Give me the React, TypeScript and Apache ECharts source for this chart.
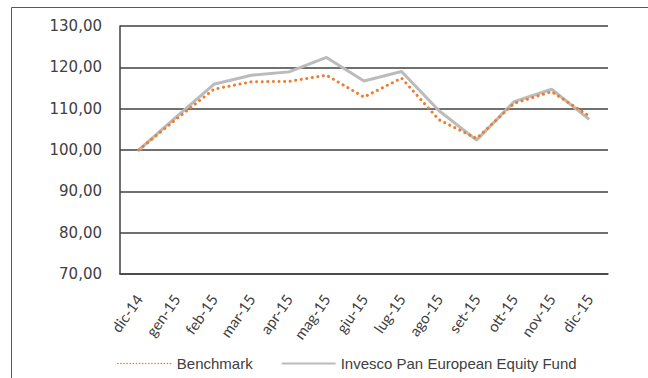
import React, { useEffect, useRef } from "react";
import * as echarts from "echarts";

const categories = ["dic-14", "gen-15", "feb-15", "mar-15", "apr-15", "mag-15", "giu-15", "lug-15", "ago-15", "set-15", "ott-15", "nov-15", "dic-15"];
const benchmark = [100, 107.5, 114.7, 116.5, 116.6, 118.1, 112.8, 117.4, 107.3, 102.8, 111.3, 114.1, 108.2];
const fund = [100, 108, 115.9, 118.1, 118.9, 122.4, 116.7, 119.0, 109.5, 102.4, 111.7, 114.7, 107.4];
const seriesNames = ["Benchmark", "Invesco Pan European Equity Fund"];

export default function App() {
  const ref = useRef<HTMLDivElement>(null);
  useEffect(() => {
    if (!ref.current) return;
    const chart = echarts.init(ref.current, null, { renderer: "svg" });
    chart.setOption({
      animation: false,
      backgroundColor: "#ffffff",
      grid: { left: 120, right: 40, top: 26, bottom: 104 },
      graphic: [
        {
          type: "rect",
          shape: { x: 11.5, y: 7.5, width: 700, height: 500 },
          style: { fill: "none", stroke: "#595959", lineWidth: 1 },
          silent: true,
        },
      ],
      legend: {
        bottom: 2,
        left: 112,
        itemWidth: 54,
        itemHeight: 10,
        itemGap: 28,
        itemStyle: { opacity: 0 },
        textStyle: { fontFamily: "Liberation Sans", fontSize: 15, color: "#404040" },
        data: [
          { name: seriesNames[0], lineStyle: { width: 1.6, type: [0.1, 3], cap: "round" } },
          { name: seriesNames[1], lineStyle: { width: 2 } },
        ],
      },
      xAxis: {
        type: "category",
        data: categories,
        boundaryGap: true,
        axisLine: { show: true, lineStyle: { color: "#404040", width: 1.5 } },
        axisTick: { show: false },
        axisLabel: {
          rotate: 55,
          margin: 22,
          interval: 0,
          fontFamily: "Lato",
          fontSize: 15,
          color: "#404040",
        },
      },
      yAxis: {
        type: "value",
        min: 70,
        max: 130,
        interval: 10,
        axisLine: { show: true, lineStyle: { color: "#404040", width: 1.5 } },
        axisTick: { show: false },
        splitLine: { show: true, lineStyle: { color: "#404040", width: 1.5 } },
        axisLabel: {
          margin: 18,
          fontFamily: "DejaVu Sans",
          fontSize: 15,
          color: "#404040",
          formatter: (v: number) => v.toFixed(2).replace(".", ","),
        },
      },
      series: [
        {
          name: seriesNames[0],
          type: "line",
          data: benchmark,
          symbol: "none",
          z: 3,
          lineStyle: { color: "#ED7D31", width: 3, type: [0.1, 5.5], cap: "round" },
          itemStyle: { color: "#ED7D31" },
        },
        {
          name: seriesNames[1],
          type: "line",
          data: fund,
          symbol: "none",
          z: 2,
          lineStyle: { color: "#BBBBBB", width: 3 },
          itemStyle: { color: "#BBBBBB" },
        },
      ],
    });
    return () => chart.dispose();
  }, []);
  return <div ref={ref} style={{ width: 648, height: 378, position: "absolute", left: 0, top: 0 }} />;
}
